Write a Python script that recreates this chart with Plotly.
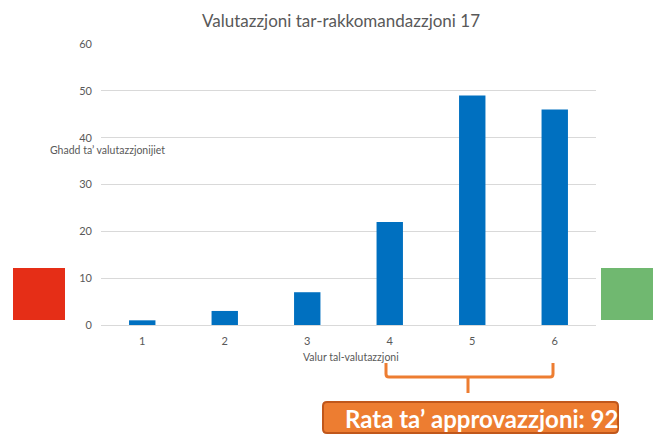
import plotly.graph_objects as go

categories = ["1", "2", "3", "4", "5", "6"]
counts = [1, 3, 7, 22, 49, 46]
y_ticks = [0, 10, 20, 30, 40, 50, 60]

title_text = "Valutazzjoni tar-rakkomandazzjoni 17"
x_title = "Valur tal-valutazzjoni"
y_title = "Ghadd ta’ valutazzjonijiet"
badge_text = "Rata ta’ approvazzjoni: 92"

W, H = 660, 440
L, R, T, B = 101, 64, 44, 115
pw, ph = W - L - R, H - T - B

def px(x):
    return (x - L) / pw

def py(y):
    return (H - B - y) / ph

fig = go.Figure()
fig.add_trace(go.Bar(x=categories, y=counts, marker_color="#0070C0",
                     marker_line_width=0, width=0.32))

grey = "#595959"
fig.update_layout(
    width=W, height=H,
    margin=dict(l=L, r=R, t=T, b=B),
    plot_bgcolor="white", paper_bgcolor="white",
    showlegend=False,
    font=dict(family="Lato, Carlito, sans-serif", color=grey, size=11),
    xaxis=dict(type="category", showgrid=False, showline=False, zeroline=False,
               ticks="", tickfont=dict(size=11, color=grey), ticklabelstandoff=8),
    yaxis=dict(range=[0, 60], tickvals=y_ticks, showgrid=True, gridcolor="#D9D9D9",
               gridwidth=1, zeroline=True, zerolinecolor="#D9D9D9", zerolinewidth=1,
               showline=False, ticks="", tickfont=dict(size=11, color=grey),
               ticklabelstandoff=8),
    bargap=0.68,
)

ann = [
    dict(text=title_text, x=px(341), y=py(20), xref="paper", yref="paper",
         showarrow=False, font=dict(size=17, color=grey), xanchor="center", yanchor="middle"),
    dict(text=x_title, x=px(351), y=py(357), xref="paper", yref="paper",
         showarrow=False, font=dict(size=10.5, color=grey), xanchor="center", yanchor="middle"),
    dict(text=y_title, x=px(48), y=py(150), xref="paper", yref="paper",
         showarrow=False, font=dict(size=10.5, color=grey), xanchor="left", yanchor="middle"),
    dict(text="<b>" + badge_text + "</b>", x=px(343), y=py(418), xref="paper", yref="paper",
         showarrow=False, font=dict(size=24, color="white"), xanchor="left", yanchor="middle"),
]
fig.update_layout(annotations=ann)

shapes = [
    dict(type="rect", xref="paper", yref="paper", x0=px(13), x1=px(65), y0=py(320), y1=py(268),
         fillcolor="#E52E17", line_width=0, layer="above"),
    dict(type="rect", xref="paper", yref="paper", x0=px(601), x1=px(653), y0=py(320), y1=py(268),
         fillcolor="#70B870", line_width=0, layer="above"),
]

def P(x, y):
    return f"{px(x)},{py(y)}"

bracket = (f"M {P(386,363)} L {P(386,374)} Q {P(386,377)} {P(389,377)} "
           f"L {P(550,377)} Q {P(553,377)} {P(553,374)} L {P(553,363)} "
           f"M {P(468,377)} L {P(468,393)}")
shapes.append(dict(type="path", xref="paper", yref="paper", path=bracket,
                   line=dict(color="#ED7D31", width=3)))

r = 4
x0, x1, y0, y1 = 323, 618, 402, 433
box = (f"M {P(x0+r,y0)} L {P(x1-r,y0)} Q {P(x1,y0)} {P(x1,y0+r)} L {P(x1,y1-r)} "
       f"Q {P(x1,y1)} {P(x1-r,y1)} L {P(x0+r,y1)} Q {P(x0,y1)} {P(x0,y1-r)} "
       f"L {P(x0,y0+r)} Q {P(x0,y0)} {P(x0+r,y0)} Z")
shapes.append(dict(type="path", xref="paper", yref="paper", path=box,
                   fillcolor="#ED7D31", line=dict(color="#C0571B", width=2), layer="below"))
fig.update_layout(shapes=shapes)

fig.write_html("out.html", config={"displayModeBar": False},
               post_script="document.body.style.margin='0';document.body.style.overflow='hidden';")
